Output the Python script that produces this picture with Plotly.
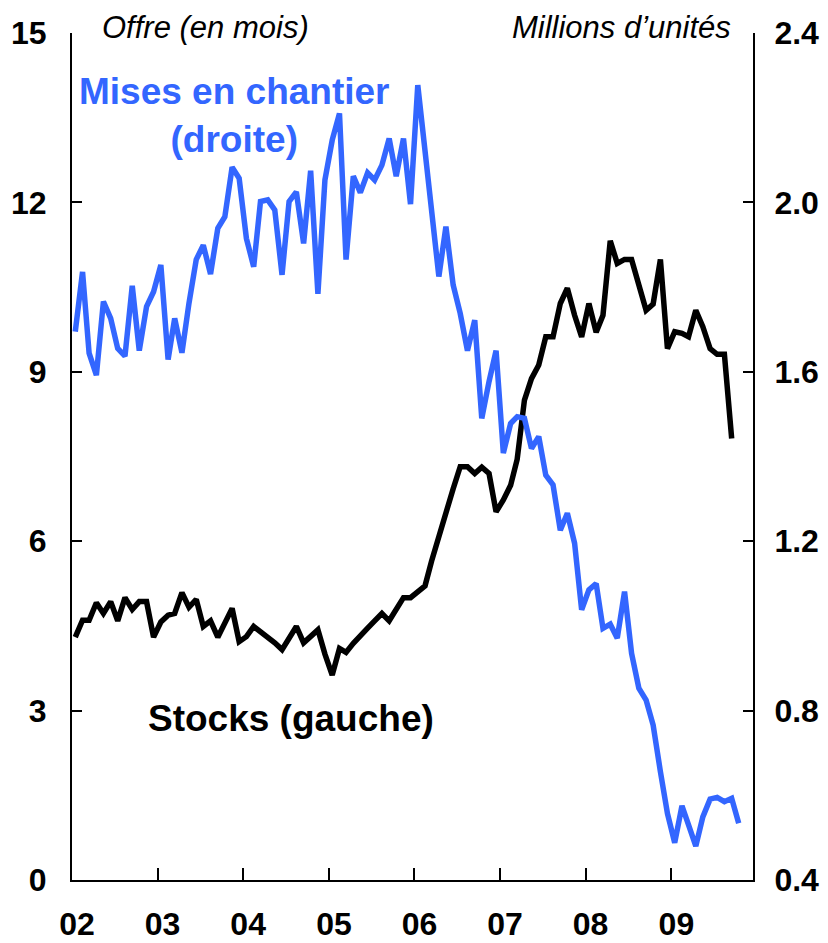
import pandas as pd
import plotly.graph_objects as go

# offre de logements (mois), gauche — janv. 2002 à sept. 2009
stocks = [
    4.30, 4.60, 4.60, 4.91, 4.72, 4.93, 4.59, 5.00, 4.79, 4.93, 4.93, 4.30,
    4.57, 4.69, 4.72, 5.09, 4.83, 4.97, 4.49, 4.59, 4.30, 4.55, 4.81, 4.22,
    4.31, 4.49, 4.40, 4.31, 4.20, 4.08, 4.28, 4.49, 4.20, 4.32, 4.43, 4.00,
    3.63, 4.10, 4.03, 4.19, 4.31, 4.46, 4.59, 4.72, 4.59, 4.80, 5.00, 5.00,
    5.10, 5.21, 5.65, 6.10, 6.52, 6.93, 7.32, 7.32, 7.20, 7.31, 7.20, 6.52,
    6.73, 6.99, 7.45, 8.50, 8.88, 9.12, 9.62, 9.62, 10.21, 10.48, 10.00, 9.62,
    10.21, 9.70, 10.00, 11.32, 10.92, 10.99, 10.99, 10.55, 10.09, 10.20, 10.99, 9.41,
    9.71, 9.68, 9.62, 10.09, 9.80, 9.41, 9.31, 9.31, 7.82,
]

# mises en chantier (millions d'unités), droite — janv. 2002 à oct. 2009
mises = [
    1.695, 1.836, 1.644, 1.592, 1.766, 1.726, 1.655, 1.637, 1.803, 1.650, 1.754, 1.789,
    1.852, 1.629, 1.726, 1.645, 1.762, 1.865, 1.899, 1.831, 1.939, 1.966, 2.083, 2.057,
    1.915, 1.848, 2.002, 2.006, 1.982, 1.829, 2.002, 2.025, 1.903, 2.075, 1.784, 2.053,
    2.147, 2.210, 1.865, 2.062, 2.023, 2.070, 2.053, 2.088, 2.151, 2.062, 2.151, 1.996,
    2.277, 2.128, 1.974, 1.825, 1.943, 1.805, 1.738, 1.650, 1.722, 1.490, 1.577, 1.650,
    1.408, 1.478, 1.494, 1.490, 1.419, 1.447, 1.356, 1.333, 1.226, 1.266, 1.195, 1.038,
    1.085, 1.100, 0.994, 1.004, 0.971, 1.081, 0.935, 0.853, 0.825, 0.766, 0.656, 0.557,
    0.488, 0.575, 0.530, 0.480, 0.549, 0.591, 0.595, 0.585, 0.593, 0.534,
]

annees = ["02", "03", "04", "05", "06", "07", "08", "09"]
ticks_gauche = [0, 3, 6, 9, 12, 15]
ticks_droite = [0.4, 0.8, 1.2, 1.6, 2.0, 2.4]

mois = pd.date_range("2002-01-01", periods=len(mises), freq="MS") + pd.Timedelta(days=14)

bleu = "#3366ff"
police = "Liberation Sans, Arial, sans-serif"

fig = go.Figure()

fig.add_trace(go.Scatter(
    x=mois[:len(stocks)], y=stocks, mode="lines",
    line=dict(color="black", width=5.5), name="Stocks",
))
fig.add_trace(go.Scatter(
    x=mois, y=mises, mode="lines", yaxis="y2",
    line=dict(color=bleu, width=5.5), name="Mises en chantier",
))

axe = dict(showgrid=False, zeroline=False, showline=True, linecolor="black",
           linewidth=2, ticks="inside", tickcolor="black", tickwidth=2,
           automargin=False,
           tickfont=dict(family=police, size=32, color="black", weight="bold"))

# la page ajoute 8 px de marge autour du graphique : figure réduite d'autant
fig.update_layout(
    width=820, height=935,
    margin=dict(l=64, r=75, t=25, b=63),
    plot_bgcolor="white", paper_bgcolor="white",
    showlegend=False,
    xaxis=dict(
        **axe, type="date",
        range=["2002-01-01", "2009-12-15"],
        tickvals=[f"20{a}-01-01" for a in annees],
        ticktext=annees, ticklen=12, ticklabelstandoff=15, ticklabelshift=5,
    ),
    yaxis=dict(
        **axe, range=[0, 15], tickvals=ticks_gauche,
        ticktext=[str(v) for v in ticks_gauche], ticklen=10,
        ticklabelstandoff=17,
    ),
    yaxis2=dict(
        **axe, range=[0.4, 2.4], tickvals=ticks_droite,
        ticktext=[f"{v:.1f}" for v in ticks_droite], ticklen=10,
        overlaying="y", side="right", ticklabelstandoff=13,
    ),
)

fig.add_annotation(text="<i>Offre (en mois)</i>", xref="paper", yref="paper",
                   x=0.041, y=1.007, xanchor="left", yanchor="middle", showarrow=False,
                   font=dict(family=police, size=31, color="black"))
fig.add_annotation(text="<i>Millions d’unités</i>", xref="paper", yref="paper",
                   x=0.971, y=1.007, xanchor="right", yanchor="middle", showarrow=False,
                   font=dict(family=police, size=31, color="black"))
fig.add_annotation(text="<b>Mises en chantier<br>(droite)</b>", xref="paper", yref="paper",
                   x=0.239, y=0.903, xanchor="center", yanchor="middle", showarrow=False,
                   font=dict(family=police, size=37, color=bleu))
fig.add_annotation(text="<b>Stocks (gauche)</b>", xref="paper", yref="paper",
                   x=0.3216, y=0.191, xanchor="center", yanchor="middle", showarrow=False,
                   font=dict(family=police, size=37, color="black"))

fig.write_html("out.html")
